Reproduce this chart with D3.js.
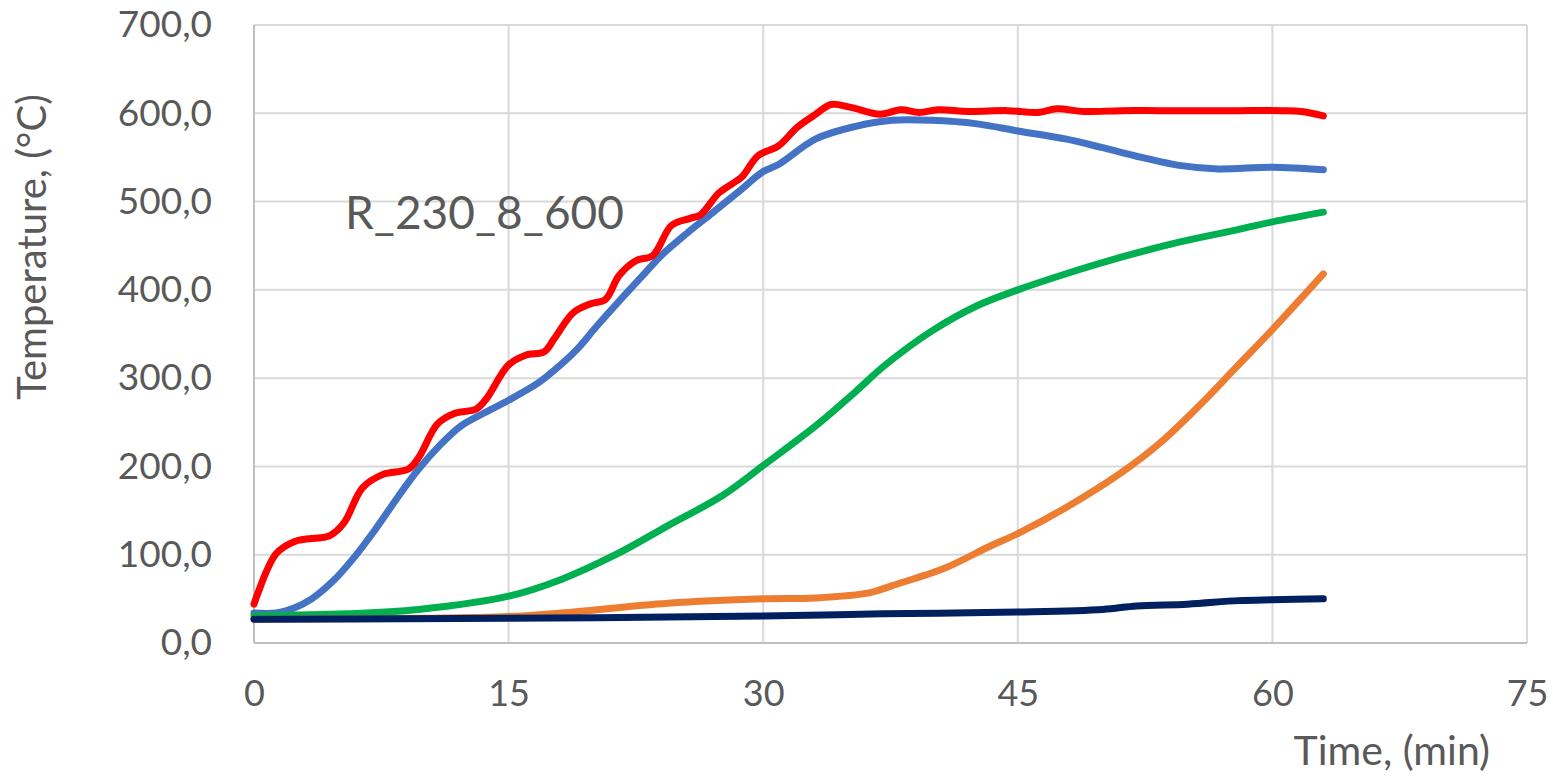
<!DOCTYPE html>
<html>
<head>
<meta charset="utf-8">
<script src="https://cdn.jsdelivr.net/npm/d3@7"></script>
<style>
  html, body { margin: 0; padding: 0; background: #fff; }
  svg { display: block; font-family: Lato, "Open Sans", sans-serif; }
</style>
</head>
<body>
<div id="chart"></div>
<script>
// time in minutes, temperature in °C
var redT   = [0, 1.3, 2.4, 4.5, 5.3, 6.4, 7.6, 9.1, 9.7, 10.8, 11.8, 13.1, 13.7, 15, 16, 17.1, 17.7, 18.8, 19.8, 20.7, 21.5, 22.5, 23.5, 24.6, 25.7, 26.3, 27.4, 28.4, 28.8, 29.7, 30.9, 32, 33.1, 34, 35.1, 36.9, 38.1, 39.2, 40.3, 42.1, 44.4, 46.2, 47.3, 48.9, 51.1, 53.4, 55.7, 57.9, 60.6, 61.7, 63];
var redV   = [44, 101, 115, 122, 136, 176, 191, 197, 210, 248, 260, 265, 277, 315, 326, 330, 345, 374, 384, 389, 416, 433, 439, 473, 481, 485, 510, 523, 529, 552, 563, 584, 599, 610, 607, 599, 604, 601, 604, 602, 603, 601, 605, 602, 603, 603, 603, 603, 603, 602, 597];

var blueT  = [0, 1.3, 2.4, 3.4, 4.7, 5.9, 7.2, 8.5, 9.7, 11, 12.2, 13.5, 15, 16.7, 17.7, 19, 20.2, 21.5, 22.8, 24, 25.5, 27, 28.6, 30, 30.9, 33.1, 35.4, 37.6, 39.9, 42.6, 45, 47.8, 50, 52.3, 54.5, 56.8, 60, 63];
var blueV  = [34, 34, 40, 50, 71, 97, 130, 166, 197, 225, 246, 260, 275, 294, 309, 332, 359, 387, 414, 439, 464, 487, 512, 534, 542, 571, 585, 592, 592, 588, 580, 571, 561, 550, 541, 537, 539, 536];

var greenT = [0, 5.5, 9.7, 15, 18.1, 21.3, 24.4, 27.6, 30, 33.1, 35.4, 37.2, 39.9, 42.6, 45, 47.8, 51.1, 54.5, 57.9, 60, 63];
var greenV = [31, 33, 38, 53, 72, 100, 133, 167, 201, 246, 284, 315, 353, 382, 400, 418, 437, 454, 468, 477, 488];

var orangeT = [0, 10, 15, 18.1, 24.4, 30, 33.1, 36.3, 37.6, 40.6, 43.3, 45, 47.8, 51.1, 53.4, 55.7, 57.9, 60, 63];
var orangeV = [27, 28, 30, 34, 45, 50, 51, 57, 65, 84, 109, 124, 153, 193, 227, 269, 313, 355, 418];

var navyT  = [0, 15, 30, 37, 45, 50, 52, 55, 58, 60, 63];
var navyV  = [27, 28, 30.5, 33, 35, 38, 42, 44, 48, 49, 50];

var xTicks = [0, 15, 30, 45, 60, 75];
var yTicks = [0, 100, 200, 300, 400, 500, 600, 700];

// drawing order: later ones sit on top
var series = [
  { name: "blue",   t: blueT,   v: blueV,   color: "#4472C4" },
  { name: "green",  t: greenT,  v: greenV,  color: "#00B050" },
  { name: "orange", t: orangeT, v: orangeV, color: "#ED7D31" },
  { name: "navy",   t: navyT,   v: navyV,   color: "#002060" },
  { name: "red",    t: redT,    v: redV,    color: "#FF0000" }
];

var width = 1553, height = 776;
var margin = { top: 25, right: 26, bottom: 133, left: 254 };

var svg = d3.select("#chart").append("svg")
  .attr("width", width)
  .attr("height", height);

var x = d3.scaleLinear().domain([0, 75]).range([margin.left, width - margin.right]);
var y = d3.scaleLinear().domain([0, 700]).range([height - margin.bottom, margin.top]);

var grid = svg.append("g").attr("class", "grid");
grid.selectAll("line.h")
  .data(yTicks)
  .enter().append("line")
  .attr("class", "h")
  .attr("x1", x(0)).attr("x2", x(75))
  .attr("y1", function (d) { return y(d); })
  .attr("y2", function (d) { return y(d); })
  .attr("stroke", "#d9d9d9").attr("stroke-width", 2);
grid.selectAll("line.v")
  .data(xTicks)
  .enter().append("line")
  .attr("class", "v")
  .attr("y1", y(0)).attr("y2", y(700))
  .attr("x1", function (d) { return x(d); })
  .attr("x2", function (d) { return x(d); })
  .attr("stroke", "#d9d9d9").attr("stroke-width", 2);

// axis lines
svg.append("line")
  .attr("x1", x(0)).attr("x2", x(75)).attr("y1", y(0)).attr("y2", y(0))
  .attr("stroke", "#bfbfbf").attr("stroke-width", 2);
svg.append("line")
  .attr("x1", x(0)).attr("x2", x(0)).attr("y1", y(0)).attr("y2", y(700))
  .attr("stroke", "#bfbfbf").attr("stroke-width", 2);

// tick labels
var fmt = function (d) { return d3.format(".1f")(d).replace(".", ","); };

var yAxis = d3.axisLeft(y).tickValues(yTicks).tickFormat(fmt).tickSize(0).tickPadding(42);
svg.append("g")
  .attr("transform", "translate(" + margin.left + ",0)")
  .call(yAxis)
  .call(function (g) { g.select(".domain").remove(); })
  .selectAll("text")
  .attr("font-size", 37).attr("fill", "#595959").attr("font-family", "Lato, sans-serif");

var xAxis = d3.axisBottom(x).tickValues(xTicks).tickFormat(d3.format("d")).tickSize(0).tickPadding(37);
svg.append("g")
  .attr("transform", "translate(0," + y(0) + ")")
  .call(xAxis)
  .call(function (g) { g.select(".domain").remove(); })
  .selectAll("text")
  .attr("font-size", 36).attr("fill", "#595959").attr("font-family", "Lato, sans-serif");

// lines
var line = d3.line()
  .x(function (d) { return x(d[0]); })
  .y(function (d) { return y(d[1]); })
  .curve(d3.curveCatmullRom.alpha(0.5));

svg.append("g").attr("class", "lines")
  .selectAll("path")
  .data(series)
  .enter().append("path")
  .attr("d", function (s) { return line(d3.zip(s.t, s.v)); })
  .attr("fill", "none")
  .attr("stroke", function (s) { return s.color; })
  .attr("stroke-width", 7)
  .attr("stroke-linecap", "round")
  .attr("stroke-linejoin", "round");

// titles
svg.append("text")
  .attr("x", 1490).attr("y", 765)
  .attr("text-anchor", "end")
  .attr("font-size", 41).attr("fill", "#595959")
  .text("Time, (min)");

svg.append("text")
  .attr("transform", "translate(46,247) rotate(-90)")
  .attr("text-anchor", "middle")
  .attr("font-size", 40).attr("fill", "#595959")
  .text("Temperature, (°C)");

svg.append("text")
  .attr("x", 345).attr("y", 229)
  .attr("font-size", 46).attr("fill", "#595959")
  .text("R_230_8_600");
</script>
</body>
</html>
